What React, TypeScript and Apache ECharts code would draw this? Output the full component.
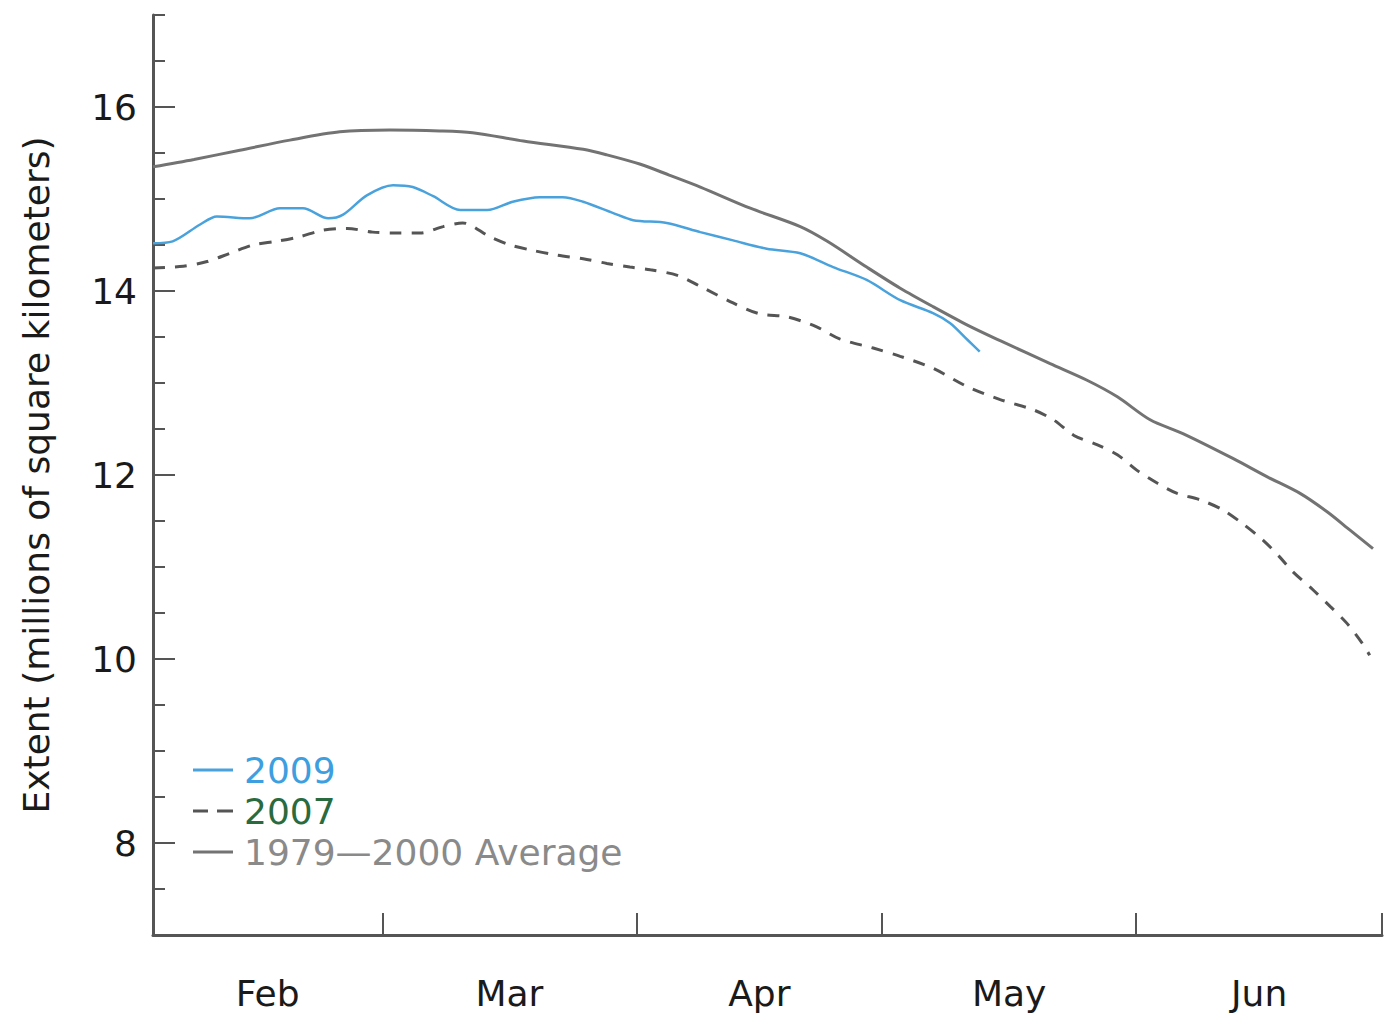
import React, { useEffect, useRef } from "react";
import * as echarts from "echarts";

// Day index counted from Feb 1 (0) to Jul 1 (150)
const monthTickDays = [28, 59, 89, 120, 150];
const monthLabelDays = [14, 43.5, 74, 104.5, 135];
const monthLabels = ["Feb", "Mar", "Apr", "May", "Jun"];
const yLabelValues = [8, 10, 12, 14, 16];

const avgDays = [0, 5, 10.6, 16.7, 22.8, 28.9, 35, 39, 45.2, 52.5, 55.4, 59.4, 63, 66.8, 72.9, 79, 82.3, 87.1, 91.2, 95.2, 99.4, 103.4, 109.5, 114, 117.7, 121.7, 125.7, 131.8, 136, 140, 143.3, 146.1, 148.9];
const avgVals = [15.35, 15.43, 15.53, 15.64, 15.73, 15.75, 15.74, 15.72, 15.63, 15.54, 15.48, 15.38, 15.26, 15.13, 14.9, 14.7, 14.54, 14.26, 14.03, 13.83, 13.63, 13.46, 13.21, 13.03, 12.85, 12.6, 12.45, 12.18, 11.98, 11.8, 11.6, 11.4, 11.2];

const y2009Days = [0, 2.4, 5.7, 7.8, 11.8, 15.5, 18.3, 21.4, 23.2, 26.1, 29.3, 31.7, 34.2, 37.5, 40.8, 43.9, 47.2, 50, 52.5, 56.1, 58.6, 62.7, 66.8, 70.8, 74.9, 79, 83, 87.1, 91.2, 95.2, 97.3, 99.4, 100.9];
const y2009Vals = [14.52, 14.54, 14.72, 14.81, 14.79, 14.9, 14.9, 14.79, 14.83, 15.04, 15.15, 15.13, 15.03, 14.88, 14.88, 14.97, 15.02, 15.02, 14.97, 14.85, 14.77, 14.74, 14.64, 14.55, 14.46, 14.41, 14.26, 14.12, 13.9, 13.76, 13.65, 13.47, 13.34];

const y2007Days = [0, 3.7, 6.6, 9.4, 12.2, 15.1, 17.9, 20.7, 23.7, 26.8, 29.8, 32.6, 35.4, 37.8, 41.1, 43.6, 46.4, 49.3, 52.5, 55.4, 58.2, 60.7, 64, 66.8, 70.8, 74.1, 77.4, 81, 83.8, 87.9, 91.2, 95.2, 99.4, 103.4, 107.4, 109.9, 112.4, 115.2, 117.7, 120.1, 122.6, 125, 127.8, 130.6, 133, 135.5, 137.5, 139.1, 141.6, 143.7, 145.7, 147.6, 148.5];
const y2007Vals = [14.25, 14.27, 14.32, 14.41, 14.5, 14.54, 14.59, 14.66, 14.68, 14.64, 14.63, 14.63, 14.7, 14.74, 14.59, 14.5, 14.44, 14.39, 14.35, 14.3, 14.26, 14.23, 14.17, 14.05, 13.87, 13.75, 13.72, 13.61, 13.48, 13.38, 13.29, 13.16, 12.96, 12.82, 12.71, 12.6, 12.43, 12.33, 12.22, 12.05, 11.91, 11.8, 11.73, 11.62, 11.47, 11.29, 11.11, 10.95, 10.75, 10.57, 10.39, 10.17, 10.04];

const FONT = "'DejaVu Sans', 'Liberation Sans', Arial, sans-serif";
const AXIS_COLOR = "#555555";
const AVG_NAME = "1979—2000 Average";

function pairs(days: number[], vals: number[]) {
  return days.map((d, i) => [d, vals[i]]);
}

export default function App() {
  const ref = useRef<HTMLDivElement>(null);
  useEffect(() => {
    if (!ref.current) return;
    const chart = echarts.init(ref.current, null, { renderer: "svg" });
    chart.setOption({
      animation: false,
      backgroundColor: "#ffffff",
      grid: { left: 153, right: 12, top: 15, bottom: 89, containLabel: false, outerBoundsMode: "none" },
      legend: {
        orient: "vertical",
        left: 188,
        top: 747,
        itemWidth: 40,
        itemHeight: 3,
        itemGap: 5,
        selectedMode: false,
        textStyle: { fontFamily: FONT, fontSize: 36, padding: [0, 0, 0, 6] },
        data: [
          { name: "2009", icon: "rect", itemStyle: { color: "#4aa2dc" }, textStyle: { color: "#3d9fe0" } },
          {
            name: "2007",
            icon: "path://M0,0h15v3h-15z M24,0h16v3h-16z",
            itemStyle: { color: "#555555", opacity: 1, borderWidth: 0 },
            textStyle: { color: "#2a6a3f" },
          },
          { name: AVG_NAME, icon: "rect", itemStyle: { color: "#737373" }, textStyle: { color: "#8a8a8a" } },
        ],
      },
      xAxis: {
        type: "value",
        min: 0,
        max: 150,
        axisLine: { show: true, lineStyle: { color: AXIS_COLOR, width: 3 } },
        axisTick: {
          show: true,
          inside: true,
          length: 22,
          customValues: monthTickDays,
          lineStyle: { color: AXIS_COLOR, width: 2 },
        },
        axisLabel: {
          customValues: monthLabelDays,
          formatter: (v: number) => {
            const i = monthLabelDays.indexOf(v);
            return i >= 0 ? monthLabels[i] : "";
          },
          margin: 40,
          fontFamily: FONT,
          fontSize: 36,
          color: "#1a1a1a",
        },
        splitLine: { show: false },
      },
      yAxis: [
        {
          type: "value",
          min: 7,
          max: 17,
          interval: 0.5,
          name: "Extent (millions of square kilometers)",
          nameLocation: "middle",
          nameGap: 99,
          nameRotate: 90,
          nameTextStyle: { fontFamily: FONT, fontSize: 36, color: "#1a1a1a" },
          axisLine: { show: true, lineStyle: { color: AXIS_COLOR, width: 3 } },
          axisTick: { show: true, inside: true, length: 12, lineStyle: { color: AXIS_COLOR, width: 2 } },
          axisLabel: {
            customValues: yLabelValues,
            formatter: (v: number) => String(v),
            margin: 16,
            fontFamily: FONT,
            fontSize: 36,
            color: "#1a1a1a",
          },
          splitLine: { show: false },
        },
        {
          type: "value",
          min: 7,
          max: 17,
          position: "left",
          axisLine: { show: false },
          axisTick: {
            show: true,
            inside: true,
            length: 22,
            customValues: yLabelValues,
            lineStyle: { color: AXIS_COLOR, width: 2 },
          },
          axisLabel: { show: false },
          splitLine: { show: false },
        },
      ],
      series: [
        {
          name: AVG_NAME,
          type: "line",
          data: pairs(avgDays, avgVals),
          symbol: "none",
          smooth: 0.3,
          lineStyle: { color: "#737373", width: 3 },
          itemStyle: { color: "#737373" },
          z: 3,
        },
        {
          name: "2007",
          type: "line",
          data: pairs(y2007Days, y2007Vals),
          symbol: "none",
          smooth: 0.3,
          lineStyle: { color: "#555555", width: 3, type: [12, 10] },
          itemStyle: { color: "#555555" },
          z: 2,
        },
        {
          name: "2009",
          type: "line",
          data: pairs(y2009Days, y2009Vals),
          symbol: "none",
          smooth: 0.3,
          lineStyle: { color: "#4aa2dc", width: 2.5 },
          itemStyle: { color: "#4aa2dc" },
          z: 4,
        },
      ],
    });
    return () => chart.dispose();
  }, []);
  return (
    <div
      ref={ref}
      style={{ position: "fixed", left: 0, top: 0, width: 1394, height: 1024, background: "#fff" }}
    />
  );
}
